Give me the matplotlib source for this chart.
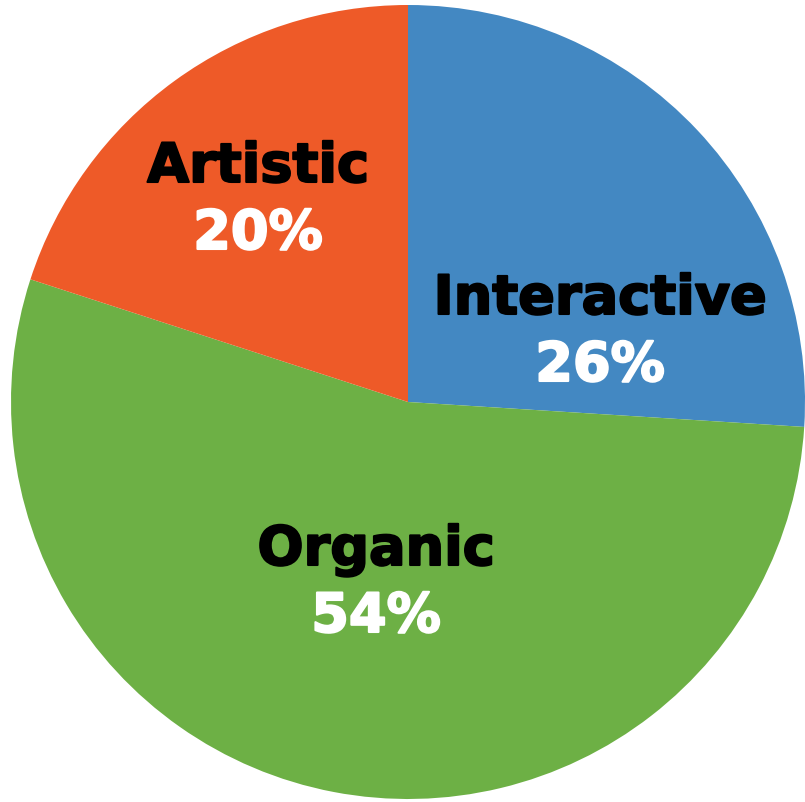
import matplotlib
matplotlib.use("Agg")
import matplotlib.pyplot as plt
import matplotlib.patheffects as pe

labels = ["Interactive", "Organic", "Artistic"]
shares = [26, 54, 20]
colors = ["#4388C2", "#6DB045", "#EE5A28"]

# label anchor points in pixels (name line; percent sits below it)
label_px = {"Interactive": (600, 300), "Organic": (376, 551), "Artistic": (258, 168)}

W, H = 805, 803
cx, cy, R = 408, 403, 397


def to_data(px, py):
    return (px - cx) / R, (cy - py) / R


fig = plt.figure(figsize=(W / 100, H / 100), dpi=100)
ax = fig.add_axes([0, 0, 1, 1])
ax.pie(shares, colors=colors, startangle=90, counterclock=False, radius=1,
       wedgeprops={"linewidth": 0})
ax.set_xlim(-cx / R, (W - cx) / R)
ax.set_ylim(-(H - cy) / R, cy / R)
ax.set_aspect("auto")
ax.axis("off")

for name, pct in zip(labels, shares):
    px, py = label_px[name]
    x, y = to_data(px, py)
    ax.text(x, y, name, ha="center", va="center", fontsize=39,
            fontweight="bold", color="black",
            path_effects=[pe.withStroke(linewidth=1.5, foreground="black")])
    x2, y2 = to_data(px, py + 67)
    ax.text(x2, y2, "{}%".format(pct), ha="center", va="center", fontsize=39,
            fontweight="bold", color="white",
            path_effects=[pe.withStroke(linewidth=1.5, foreground="white")])

fig.savefig("out.png", dpi=100, facecolor="white")
